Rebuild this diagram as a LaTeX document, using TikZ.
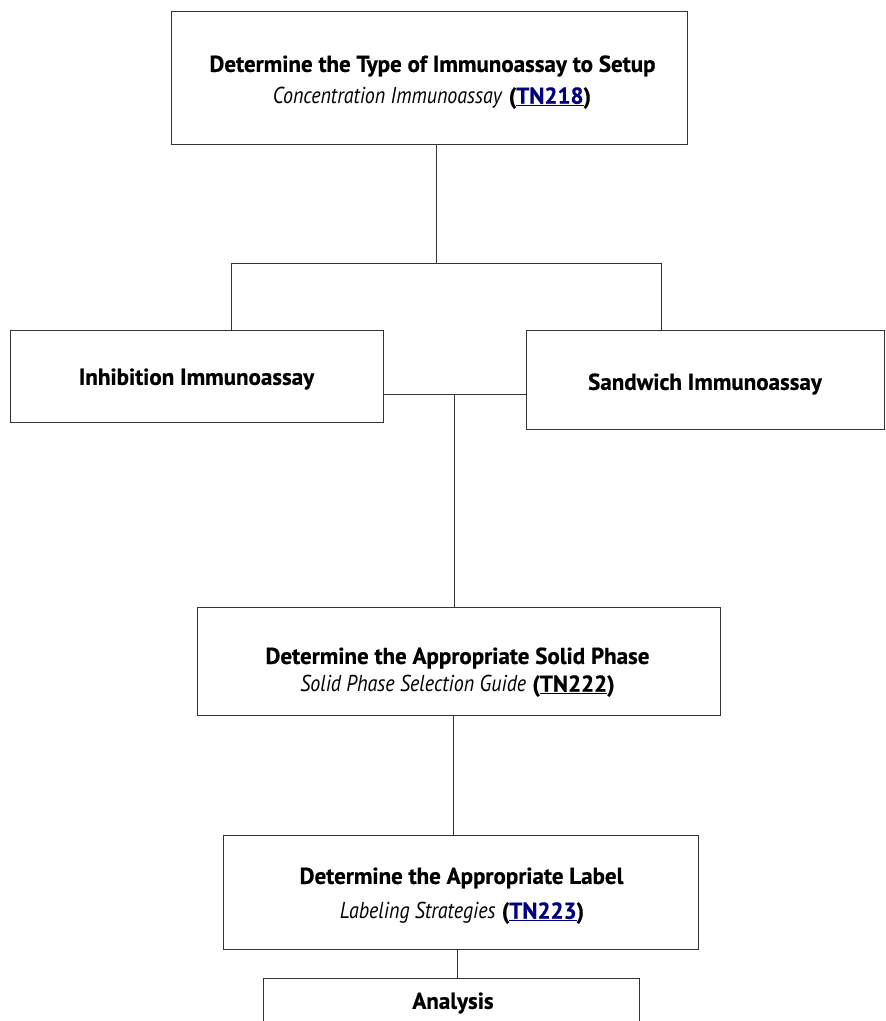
\documentclass[tikz,border=0pt]{standalone}
\usepackage{fontspec}
\setmainfont{PT Sans}[BoldFeatures={FakeStretch=1.0,FakeBold=0.6},ItalicFeatures={FakeStretch=0.87}]
\definecolor{linkblue}{HTML}{000080}
\begin{document}
\begin{tikzpicture}[x=1pt,y=-1pt,
  box/.style={draw=black!80,line width=1pt,fill=white,inner sep=0pt},
  head/.style={inner sep=0pt,font=\fontsize{23}{28}\selectfont\bfseries},
  sub/.style={inner sep=0pt,font=\fontsize{23}{28}\selectfont},
  conn/.style={draw=black!80,line width=1pt}]
\useasboundingbox (0,0) rectangle (886,1021);
\clip (0,0) rectangle (886,1021);
% boxes
\node[box,minimum width=516pt,minimum height=133pt] (type) at (429,77.5) {};
\node[box,minimum width=373pt,minimum height=92pt] (inh) at (196.5,376) {};
\node[box,minimum width=358pt,minimum height=99pt] (sand) at (705,379.5) {};
\node[box,minimum width=523pt,minimum height=108pt] (solid) at (458.5,661) {};
\node[box,minimum width=475pt,minimum height=114pt] (label) at (460.5,892) {};
\node[box,minimum width=376pt,minimum height=80pt,anchor=north] (ana) at (451,978) {};
% texts
\node[head] (typeA) at (432.5,66) {Determine the Type of Immunoassay to Setup};
\node[sub]  (typeB) at (432,98) {\textit{Concentration Immunoassay} \textbf{(\textcolor{linkblue}{\underline{TN218}})}};
\node[head] (inhA) at (196.5,379) {Inhibition Immunoassay};
\node[head] (sandA) at (705,384) {Sandwich Immunoassay};
\node[head] (solidA) at (457.5,658) {Determine the Appropriate Solid Phase};
\node[sub]  (solidB) at (457.5,686) {\textit{Solid Phase Selection Guide} \textbf{(\underline{TN222})}};
\node[head] (labelA) at (461.5,878) {Determine the Appropriate Label};
\node[sub]  (labelB) at (462,913) {\textit{Labeling Strategies} \textbf{(\textcolor{linkblue}{\underline{TN223}})}};
\node[head] (anaA) at (453,1003) {Analysis};
% connectors
\coordinate (busL) at (231,263);
\coordinate (busR) at (661,263);
\coordinate (busT) at (436,263);
\coordinate (mid) at (454,394);
\draw[conn] (type.south -| busT) -- (busT);
\draw[conn] (busL) -- (busR);
\draw[conn] (busL) -- (busL |- inh.north);
\draw[conn] (busR) -- (busR |- sand.north);
\draw[conn] (inh.east |- mid) -- (sand.west |- mid);
\draw[conn] (mid) -- (mid |- solid.north);
\draw[conn] (solid.south -| 453,0) -- (label.north -| 453,0);
\draw[conn] (label.south -| 457,0) -- (ana.north -| 457,0);
\end{tikzpicture}
\end{document}
